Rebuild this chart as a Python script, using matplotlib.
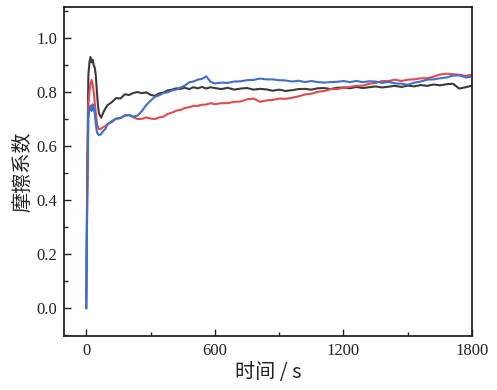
import numpy as np
import matplotlib.pyplot as plt
from matplotlib.ticker import MultipleLocator

# time (s)
t = [0, 5, 10, 15, 20, 25, 30, 35, 40, 45, 50, 55, 60, 70, 80, 90, 100, 120, 140, 160,
     180, 200, 220, 240, 260, 280, 300, 320, 340, 360, 380, 400, 420, 440, 460, 480,
     500, 520, 540, 560, 580, 600,
     630, 660, 690, 720, 750, 780, 810, 840, 870, 900, 930, 960, 990, 1020, 1050, 1080,
     1110, 1140, 1170, 1200, 1230, 1260, 1290, 1320, 1350, 1380, 1410, 1440, 1470, 1500,
     1530, 1560, 1590, 1620, 1650, 1680, 1710, 1740, 1770, 1800]

black = [0.00, 0.50, 0.86, 0.91, 0.93, 0.91, 0.92, 0.90, 0.89, 0.86, 0.80, 0.75, 0.72, 0.705,
         0.725, 0.74, 0.752, 0.763, 0.778, 0.776, 0.792, 0.789, 0.797, 0.80, 0.796, 0.799, 0.79,
         0.786, 0.795, 0.798, 0.806, 0.809, 0.814, 0.812, 0.816, 0.811, 0.818, 0.814, 0.819,
         0.813, 0.818, 0.815,
         0.811, 0.816, 0.809, 0.813, 0.815, 0.809, 0.812, 0.81, 0.805, 0.809, 0.804, 0.807,
         0.811, 0.812, 0.809, 0.814, 0.815, 0.811, 0.816, 0.817, 0.814, 0.819, 0.815, 0.818,
         0.821, 0.817, 0.82, 0.823, 0.819, 0.824, 0.821, 0.826, 0.823, 0.828, 0.825, 0.829,
         0.831, 0.813, 0.818, 0.824]

blue = [0.00, 0.40, 0.70, 0.74, 0.75, 0.73, 0.755, 0.74, 0.72, 0.68, 0.652, 0.645, 0.64, 0.645,
        0.656, 0.664, 0.681, 0.693, 0.702, 0.704, 0.713, 0.715, 0.709, 0.713, 0.73, 0.752, 0.768,
        0.782, 0.788, 0.797, 0.799, 0.806, 0.809, 0.817, 0.824, 0.836, 0.839, 0.846, 0.849, 0.858,
        0.838, 0.832,
        0.835, 0.834, 0.839, 0.84, 0.844, 0.845, 0.85, 0.847, 0.847, 0.844, 0.843, 0.839,
        0.842, 0.837, 0.841, 0.837, 0.835, 0.837, 0.838, 0.841, 0.837, 0.841, 0.837, 0.84,
        0.839, 0.834, 0.838, 0.832, 0.831, 0.827, 0.835, 0.839, 0.846, 0.847, 0.851, 0.854,
        0.861, 0.862, 0.854, 0.858]

red = [0.00, 0.45, 0.75, 0.80, 0.83, 0.845, 0.83, 0.80, 0.76, 0.72, 0.685, 0.668, 0.662, 0.665,
       0.671, 0.674, 0.681, 0.689, 0.701, 0.704, 0.713, 0.715, 0.707, 0.70, 0.701, 0.706, 0.702,
       0.70, 0.706, 0.709, 0.719, 0.724, 0.731, 0.734, 0.741, 0.744, 0.749, 0.749, 0.753, 0.754,
       0.759, 0.755,
       0.759, 0.759, 0.764, 0.765, 0.773, 0.776, 0.764, 0.769, 0.771, 0.776, 0.775, 0.779,
       0.784, 0.791, 0.794, 0.801, 0.804, 0.811, 0.811, 0.816, 0.819, 0.823, 0.824, 0.831,
       0.834, 0.841, 0.841, 0.846, 0.841, 0.846, 0.847, 0.851, 0.851, 0.857, 0.865, 0.868,
       0.866, 0.864, 0.86, 0.865]

fig = plt.figure(figsize=(4.97, 3.9), dpi=100)
ax = fig.add_axes([0.129, 0.138, 0.821, 0.844])

ax.plot(t, black, color='#3a3a3a', lw=1.5)
ax.plot(t, red, color='#e04a4f', lw=1.5)
ax.plot(t, blue, color='#3d6fcc', lw=1.5)

ax.set_xlim(-103, 1800)
ax.set_ylim(-0.104, 1.115)
ax.set_xticks([0, 600, 1200, 1800])
ax.xaxis.set_minor_locator(MultipleLocator(300))
ax.set_yticks([0.0, 0.2, 0.4, 0.6, 0.8, 1.0])
ax.yaxis.set_minor_locator(MultipleLocator(0.1))
ax.set_yticklabels(['0.0', '0.2', '0.4', '0.6', '0.8', '1.0'])
ax.tick_params(which='both', direction='in', labelsize=12, width=1, colors='#222222', pad=5)
ax.tick_params(which='major', length=5)
ax.tick_params(which='minor', length=3)
for lab in ax.get_xticklabels() + ax.get_yticklabels():
    lab.set_family('Liberation Serif')
for s in ax.spines.values():
    s.set_linewidth(1.3)
    s.set_color('#222222')

ax.set_xlabel('时间 / s', family=['Noto Sans CJK SC', 'DejaVu Sans'], fontsize=14.5,
              labelpad=2, color='#222222')
ax.set_ylabel('摩擦系数', family=['Noto Sans CJK SC', 'DejaVu Sans'], fontsize=14.5,
              labelpad=2, color='#222222')

fig.savefig('out.png', dpi=100)
